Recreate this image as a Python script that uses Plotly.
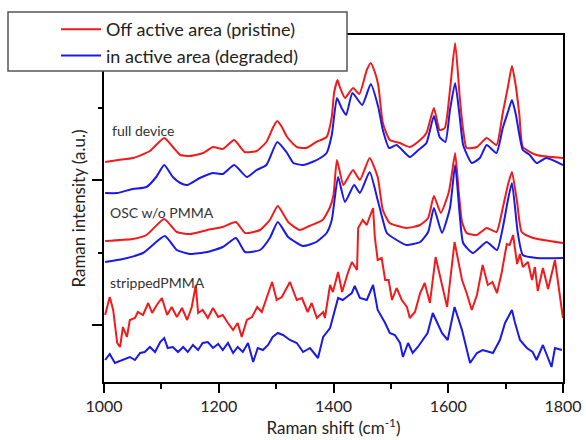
import plotly.graph_objects as go

# ---------------- data ----------------
# full device, off active area (pristine)
wn_full_off = [1002, 1025, 1051, 1080, 1105, 1120, 1133, 1150, 1173, 1190, 1207, 1227, 1245, 1266,
               1283, 1295, 1302, 1310, 1319, 1336, 1353, 1370, 1388, 1397, 1401, 1407, 1411, 1420,
               1434, 1445, 1458, 1465, 1472, 1478, 1486, 1498, 1516, 1533, 1551, 1562, 1575, 1585,
               1594, 1603, 1612, 1620, 1626, 1632, 1650, 1667, 1684, 1695, 1704, 1711, 1718, 1724,
               1730, 1754, 1800]
int_full_off = [238, 240, 242, 249, 262, 253, 245, 244, 247, 253, 251, 260, 248, 249,
                258, 273, 279, 273, 263, 253, 252, 258, 263, 283, 307, 320, 313, 302,
                312, 306, 330, 337, 328, 315, 277, 260, 257, 253, 260, 267, 292, 270,
                272, 310, 357, 303, 270, 252, 253, 262, 255, 287, 313, 334, 313, 285,
                253, 245, 242]

# full device, in active area (degraded)
wn_full_in = [1002, 1023, 1050, 1074, 1091, 1105, 1120, 1133, 1145, 1167, 1190, 1207, 1227, 1249,
              1266, 1283, 1302, 1319, 1330, 1347, 1363, 1377, 1388, 1397, 1406, 1414, 1422, 1433,
              1450, 1465, 1478, 1486, 1497, 1510, 1533, 1548, 1562, 1575, 1585, 1595, 1603, 1612,
              1620, 1626, 1641, 1655, 1667, 1684, 1695, 1704, 1711, 1718, 1724, 1730, 1742, 1754,
              1771, 1800]
int_full_in = [207, 207, 211, 213, 223, 235, 223, 217, 215, 222, 227, 226, 235, 223,
               230, 235, 258, 247, 237, 235, 238, 242, 247, 265, 302, 292, 285, 307,
               295, 316, 293, 270, 252, 255, 243, 250, 257, 284, 263, 258, 290, 317,
               283, 255, 237, 242, 255, 247, 272, 288, 300, 285, 265, 250, 245, 237,
               242, 235]

# OSC w/o PMMA, off active area (pristine)
wn_osc_off = [1002, 1050, 1074, 1105, 1127, 1150, 1180, 1207, 1230, 1246, 1272, 1289, 1303, 1321,
              1341, 1358, 1381, 1394, 1400, 1406, 1417, 1425, 1434, 1446, 1463, 1477, 1486, 1498,
              1527, 1551, 1565, 1575, 1587, 1601, 1606, 1612, 1618, 1624, 1632, 1650, 1667, 1684,
              1695, 1704, 1711, 1720, 1728, 1748, 1800]
int_osc_off = [159, 161, 165, 181, 168, 166, 170, 173, 178, 167, 170, 180, 194, 178,
               170, 174, 180, 193, 205, 240, 215, 222, 230, 220, 242, 223, 190, 177,
               172, 175, 182, 204, 187, 208, 225, 247, 210, 178, 167, 165, 172, 168,
               192, 215, 228, 198, 168, 162, 157]

# OSC w/o PMMA, in active area (degraded)
wn_osc_in = [1002, 1033, 1068, 1106, 1127, 1150, 1180, 1207, 1230, 1246, 1272, 1289, 1303, 1321,
             1347, 1370, 1388, 1397, 1408, 1420, 1436, 1446, 1463, 1477, 1486, 1493, 1510, 1527,
             1551, 1565, 1575, 1589, 1603, 1612, 1620, 1626, 1643, 1667, 1685, 1695, 1704, 1711,
             1721, 1730, 1754, 1800]
int_osc_in = [138, 141, 147, 164, 150, 146, 148, 153, 162, 148, 150, 162, 178, 163,
              154, 158, 167, 180, 223, 198, 215, 207, 228, 200, 180, 167, 160, 155,
              158, 168, 192, 167, 192, 235, 185, 157, 147, 158, 150, 172, 200, 217,
              168, 145, 142, 142]

# stripped PMMA, off active area (pristine)
wn_pmma_off = [1002, 1010, 1016, 1023, 1028, 1033, 1040, 1045, 1054, 1059, 1068, 1077, 1084, 1092,
               1101, 1110, 1118, 1127, 1136, 1145, 1153, 1160, 1164, 1172, 1181, 1190, 1199, 1207,
               1216, 1225, 1233, 1240, 1249, 1258, 1267, 1275, 1284, 1293, 1301, 1310, 1324, 1336,
               1345, 1355, 1362, 1371, 1382, 1385, 1394, 1399, 1408, 1415, 1425, 1432, 1441, 1443,
               1451, 1458, 1463, 1469, 1472, 1477, 1484, 1490, 1496, 1502, 1510, 1519, 1528, 1533,
               1542, 1551, 1559, 1568, 1578, 1589, 1598, 1611, 1624, 1632, 1641, 1650, 1660, 1669,
               1677, 1685, 1693, 1702, 1707, 1713, 1720, 1725, 1730, 1739, 1746, 1751, 1756, 1765,
               1774, 1786, 1791, 1798, 1800]
int_pmma_off = [85, 103, 90, 57, 53, 73, 63, 80, 82, 88, 85, 97, 87, 95,
                102, 85, 93, 83, 92, 80, 93, 115, 87, 90, 82, 92, 83, 85,
                77, 70, 77, 63, 80, 83, 93, 88, 103, 118, 100, 103, 118, 100,
                102, 88, 97, 82, 88, 82, 115, 108, 128, 108, 127, 138, 130, 172,
                180, 175, 183, 192, 163, 140, 142, 120, 120, 100, 112, 100, 93, 82,
                88, 107, 117, 97, 143, 115, 93, 158, 120, 107, 90, 105, 135, 115,
                118, 107, 127, 156, 155, 165, 136, 146, 133, 138, 120, 133, 109, 132,
                111, 140, 117, 90, 82]

# stripped PMMA, in active area (degraded)
wn_pmma_in = [1002, 1010, 1019, 1033, 1045, 1054, 1063, 1071, 1080, 1089, 1098, 1105, 1111, 1120,
              1129, 1138, 1146, 1155, 1164, 1172, 1181, 1190, 1199, 1207, 1216, 1225, 1233, 1242,
              1251, 1260, 1268, 1277, 1286, 1294, 1303, 1312, 1324, 1336, 1347, 1359, 1373, 1382,
              1394, 1408, 1416, 1423, 1432, 1437, 1446, 1458, 1469, 1477, 1490, 1498, 1507, 1516,
              1521, 1530, 1538, 1547, 1556, 1564, 1573, 1589, 1599, 1611, 1624, 1638, 1650, 1660,
              1678, 1690, 1699, 1711, 1716, 1725, 1737, 1747, 1754, 1765, 1780, 1786, 1798]
int_pmma_in = [40, 46, 37, 40, 43, 40, 47, 48, 53, 48, 58, 62, 52, 53,
               48, 53, 48, 55, 50, 57, 58, 52, 56, 50, 57, 47, 53, 48,
               57, 38, 52, 50, 55, 63, 67, 65, 60, 57, 48, 52, 42, 63,
               72, 102, 100, 103, 107, 114, 102, 100, 115, 90, 77, 67, 65, 57,
               43, 57, 47, 53, 60, 67, 87, 67, 60, 93, 70, 37, 47, 50,
               47, 60, 77, 90, 78, 60, 52, 48, 40, 55, 33, 52, 50]

series_names = ["Off active area (pristine)", "in active area (degraded)"]
sample_labels = ["full device", "OSC w/o PMMA", "strippedPMMA"]
x_ticks = [1000, 1200, 1400, 1600, 1800]

RED = "#f21a1a"
BLUE = "#1a1ae6"

# ---------------- layout geometry (pixels) ----------------
W, H = 586, 440
L, R, T, B = 104, 563, 35, 382


def px_x(p):
    return (p - L) / (R - L)


def px_y(p):
    return (B - p) / (B - T)


fig = go.Figure()

pairs = [
    (wn_full_off, int_full_off, wn_full_in, int_full_in, "spline"),
    (wn_osc_off, int_osc_off, wn_osc_in, int_osc_in, "spline"),
    (wn_pmma_off, int_pmma_off, wn_pmma_in, int_pmma_in, "linear"),
]
for i, (xo, yo, xi, yi, shape) in enumerate(pairs):
    fig.add_trace(go.Scatter(x=xo, y=yo, mode="lines", name=series_names[0],
                             legendgroup="off", showlegend=(i == 0),
                             line=dict(color=RED, width=2, shape=shape, smoothing=0.5)))
    fig.add_trace(go.Scatter(x=xi, y=yi, mode="lines", name=series_names[1],
                             legendgroup="in", showlegend=(i == 0),
                             line=dict(color=BLUE, width=2, shape=shape, smoothing=0.5)))

FONT = "Lato, 'Open Sans', sans-serif"

fig.update_layout(
    width=W, height=H,
    margin=dict(l=L, r=W - R, t=T, b=H - B, autoexpand=False),
    paper_bgcolor="white", plot_bgcolor="white",
    font=dict(family=FONT, color="#222222", size=16),
    showlegend=True,
    legend=dict(x=px_x(56), y=px_y(11), xanchor="left", yanchor="top",
                bgcolor="rgba(0,0,0,0)", borderwidth=0,
                font=dict(size=18, color="#222222", family=FONT),
                itemwidth=40, traceorder="grouped", tracegroupgap=0),
    xaxis=dict(range=[1000, 1800], tickvals=x_ticks, ticks="outside", ticklen=9, tickwidth=2,
               tickcolor="black", showline=True, linecolor="black", linewidth=2, mirror=True,
               showgrid=False, zeroline=False, automargin=False,
               minor=dict(dtick=100, tick0=1000, ticks="outside", ticklen=5, tickwidth=2,
                          tickcolor="black", showgrid=False),
               tickfont=dict(size=16, color="#222222"),
               title=dict(text="Raman shift (cm<sup>-1</sup>)", font=dict(size=17, color="#222222"),
                          standoff=2)),
    yaxis=dict(range=[18, 365], tickvals=[75, 220], showticklabels=False, ticks="outside",
               ticklen=10, tickwidth=2, tickcolor="black", showline=True, linecolor="black",
               linewidth=2, mirror=True, showgrid=False, zeroline=False, automargin=False,
               minor=dict(tickvals=[147.5, 292.5], ticks="outside", ticklen=4, tickwidth=2,
                          tickcolor="black", showgrid=False),
               title=dict(text="Raman intensity (a.u.)", font=dict(size=17, color="#222222"),
                          standoff=2)),
)

# legend frame
fig.add_shape(type="rect", xref="paper", yref="paper",
              x0=px_x(8), x1=px_x(347), y0=px_y(71), y1=px_y(12),
              line=dict(color="#555555", width=1.5), fillcolor="white", layer="above")

# sample labels
label_pos = [(1010, 270), (1007, 188), (1007, 118)]
for text, (lx, ly) in zip(sample_labels, label_pos):
    fig.add_annotation(x=lx, y=ly, text=text, showarrow=False, xanchor="left", yanchor="middle",
                       font=dict(size=14, color="#333333", family=FONT))

fig.write_html("out.html")
